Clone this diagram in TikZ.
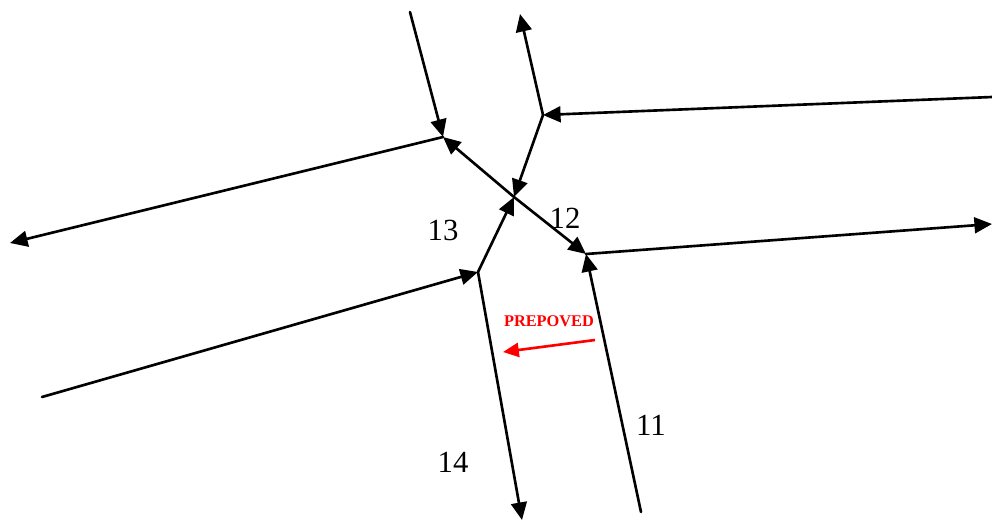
\documentclass[tikz,border=0pt]{standalone}
\usepackage{fontspec}
\setmainfont{Liberation Serif}
\usetikzlibrary{arrows.meta}
\tikzset{
  pas/.style={line width=1.5pt, line cap=round},
  tok/.style={pas, -{Triangle[length=10pt,width=9pt]}},
  prepoved/.style={line width=1.5pt, red, -{Triangle[length=9pt,width=8pt]}},
  oznaka/.style={font=\fontsize{17.5}{19}\selectfont, inner sep=1pt}
}
\begin{document}
\begin{tikzpicture}[x=0.02cm, y=-0.02cm]
    \useasboundingbox (0,0) rectangle (992,522);

    % Vozlisca krizisca
    \coordinate (A) at (443,137);
    \coordinate (B) at (543,115);
    \coordinate (C) at (514,197);
    \coordinate (D) at (586,254);
    \coordinate (E) at (478,272);

    % Prosti konci
    \coordinate (Agor) at (410,12);
    \coordinate (Alevo) at (10,243);
    \coordinate (Bgor) at (520,14);
    \coordinate (Bdesno) at (992,97);
    \coordinate (Ddesno) at (992,224);
    \coordinate (Ddol) at (641,512);
    \coordinate (Edol) at (522,520);
    \coordinate (Elevo) at (42,397);

    % Povezave okrog srediscnega vozlisca
    \draw[tok] (Agor) -- (A);
    \draw[tok] (A) -- (Alevo);
    \draw[tok] (B) -- (Bgor);
    \draw[tok] (Bdesno) -- (B);
    \draw[tok] (B) -- (C);
    \draw[tok] (C) -- (A);
    \draw[tok] (C) -- (D);
    \draw[tok] (D) -- (Ddesno);
    \draw[tok] (Ddol) -- (D);
    \draw[tok] (E) -- (C);
    \draw[tok] (E) -- (Edol);
    \draw[tok] (Elevo) -- (E);

    % Oznake krakov
    \node[oznaka] (k13) at (443,230) {13};
    \node[oznaka] (k12) at (565,218) {12};
    \node[oznaka] (k11) at (651,425) {11};
    \node[oznaka] (k14) at (453,462) {14};

    % Prepovedan zavoj
    \coordinate (Pz) at (595,340);
    \coordinate (Pk) at (503,352);
    \draw[prepoved] (Pz) -- (Pk);
    \node[red, font=\fontsize{9.3}{10}\selectfont\bfseries] (napis) at (549,321) {PREPOVED};

\end{tikzpicture}
\end{document}
